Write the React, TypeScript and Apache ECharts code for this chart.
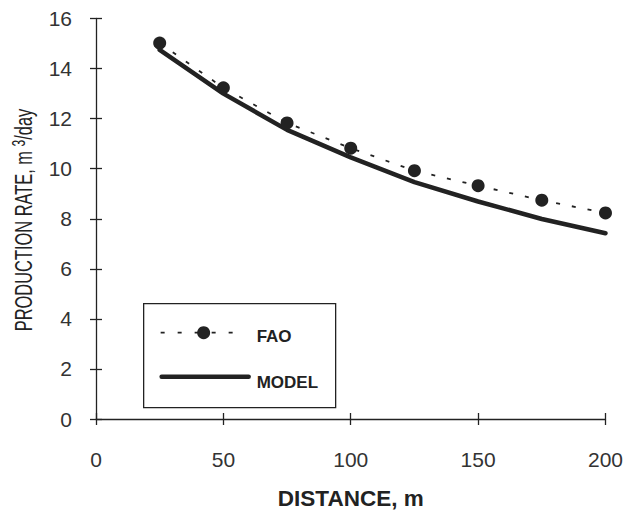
import React, { useEffect, useRef } from "react";
import * as echarts from "echarts";

// Distance from the well, m
const distances = [25, 50, 75, 100, 125, 150, 175, 200];
// FAO reference production rate, m3/day
const faoRates = [15.02, 13.23, 11.83, 10.82, 9.92, 9.32, 8.74, 8.23];
// Model-predicted production rate, m3/day
const modelRates = [14.75, 13.0, 11.55, 10.45, 9.46, 8.69, 7.99, 7.42];

const xTicks = { min: 0, max: 200, interval: 50 };
const yTicks = { min: 0, max: 16, interval: 2 };

const INK = "#222";
const LABEL_FONT = "Liberation Sans, Arial, Helvetica, sans-serif";

export default function App() {
  const ref = useRef<HTMLDivElement>(null);

  useEffect(() => {
    if (!ref.current) return;
    const chart = echarts.init(ref.current, undefined, { renderer: "svg" });

    const axisLine = { show: true, lineStyle: { color: INK, width: 1.3 } };
    const tickOut = { show: true, inside: false, length: 6, lineStyle: { color: INK, width: 1.3 } };
    const tickIn = { show: true, inside: true, length: 6, lineStyle: { color: INK, width: 1.3 } };
    const tickLabel = { color: "#333", fontSize: 21, fontFamily: LABEL_FONT };

    chart.setOption({
      animation: false,
      backgroundColor: "#fff",
      grid: { left: 88, right: 10, top: 3, bottom: 83, containLabel: false },
      xAxis: [
        {
          type: "value",
          ...xTicks,
          axisLine,
          axisTick: tickOut,
          splitLine: { show: false },
          axisLabel: { ...tickLabel, margin: 30 },
          name: "DISTANCE, m",
          nameLocation: "middle",
          nameGap: 68,
          nameTextStyle: { color: INK, fontSize: 22.5, fontWeight: "bold", fontFamily: LABEL_FONT },
        },
        {
          type: "value",
          ...xTicks,
          position: "bottom",
          axisLine: { show: false },
          axisTick: tickIn,
          splitLine: { show: false },
          axisLabel: { show: false },
        },
      ],
      yAxis: [
        {
          type: "value",
          ...yTicks,
          axisLine,
          axisTick: tickOut,
          splitLine: { show: false },
          axisLabel: { ...tickLabel, margin: 24 },
        },
        {
          type: "value",
          ...yTicks,
          position: "left",
          axisLine: { show: false },
          axisTick: tickIn,
          splitLine: { show: false },
          axisLabel: { show: false },
        },
      ],
      series: [
        {
          name: "MODEL",
          type: "line",
          data: distances.map((d, i) => [d, modelRates[i]]),
          showSymbol: false,
          symbol: "none",
          lineStyle: { color: INK, width: 4.5, cap: "round", join: "round" },
          z: 2,
        },
        {
          name: "FAO",
          type: "line",
          data: distances.map((d, i) => [d, faoRates[i]]),
          symbol: "circle",
          symbolSize: 13,
          itemStyle: { color: INK },
          lineStyle: { color: INK, width: 1.8, type: [4, 12] },
          z: 3,
        },
      ],
      graphic: [
        // Vertical axis title in a condensed face, with a superscript 3
        {
          type: "text",
          x: 15,
          y: 212,
          rotation: Math.PI / 2,
          scaleX: 0.67,
          style: {
            text: "{t|PRODUCTION RATE, m }{s|3}{t|/day}",
            align: "center",
            verticalAlign: "middle",
            fill: INK,
            rich: {
              t: { fontSize: 24.5, fontFamily: LABEL_FONT, fill: INK, lineHeight: 26, verticalAlign: "bottom" },
              s: { fontSize: 18, fontFamily: LABEL_FONT, fill: INK, lineHeight: 26, verticalAlign: "top" },
            },
          },
        },
        {
          type: "group",
          left: 135,
          top: 295,
          children: [
            {
              type: "rect",
              shape: { x: 0, y: 0, width: 192, height: 104 },
              style: { fill: "#fff", stroke: INK, lineWidth: 1.3 },
            },
            {
              type: "line",
              shape: { x1: 17, y1: 29, x2: 96, y2: 29 },
              style: { stroke: INK, lineWidth: 1.8, lineDash: [4, 13] },
            },
            {
              type: "circle",
              shape: { cx: 60, cy: 29, r: 6.5 },
              style: { fill: INK },
            },
            {
              type: "text",
              x: 113,
              y: 33,
              style: {
                text: "FAO",
                fill: INK,
                font: `bold 17px ${LABEL_FONT}`,
                verticalAlign: "middle",
              },
            },
            {
              type: "line",
              shape: { x1: 18, y1: 73, x2: 105, y2: 73 },
              style: { stroke: INK, lineWidth: 4.5, lineCap: "round" },
            },
            {
              type: "text",
              x: 113,
              y: 79,
              style: {
                text: "MODEL",
                fill: INK,
                font: `bold 17px ${LABEL_FONT}`,
                verticalAlign: "middle",
              },
            },
          ],
        },
      ],
    });

    return () => chart.dispose();
  }, []);

  return <div ref={ref} style={{ width: 618, height: 507 }} />;
}
